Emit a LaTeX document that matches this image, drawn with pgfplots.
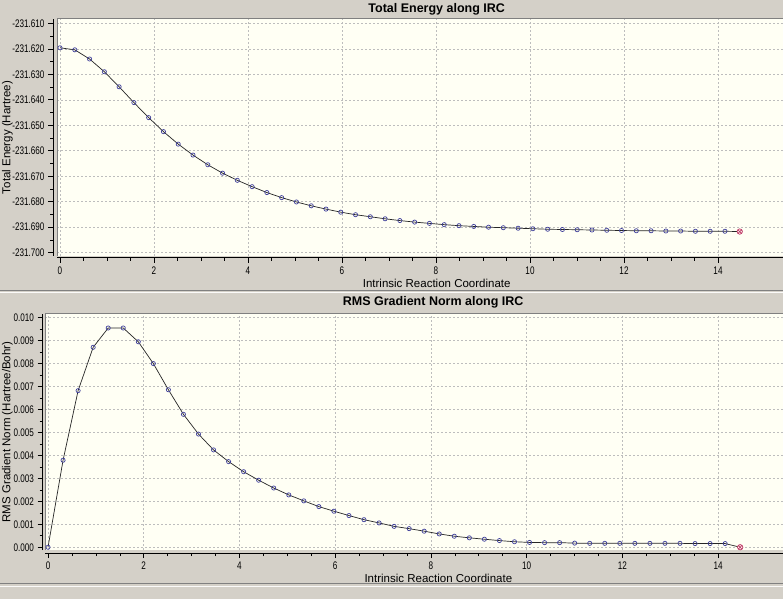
\documentclass[border=0pt]{standalone}
\usepackage{fontspec}
\setmainfont{Liberation Sans}
\newfontfamily\tickfont{Liberation Sans}[FakeStretch=0.74]
\usepackage{pgfplots}
\pgfplotsset{compat=1.18}
\definecolor{winbg}{HTML}{D4D0C8}
\definecolor{plotbg}{HTML}{FFFFF4}
\definecolor{gridc}{HTML}{BDBDBD}
\definecolor{markc}{HTML}{40409A}
\definecolor{markf}{HTML}{DCDCF4}
\definecolor{lastc}{HTML}{C03A68}
\definecolor{sepdark}{HTML}{808080}

\pgfplotsset{
  ircline/.style={
    draw=black!85, line width=0.7pt,
    mark=o, mark size=2.1pt,
    mark options={draw=markc, fill=markf, line width=0.7pt, solid}
  },
  irclast/.style={
    draw=none, mark=otimes*, mark size=2.7pt,
    mark options={draw=lastc, fill=plotbg, line width=0.7pt}
  },
  ircaxis/.style={
    scale only axis,
    axis x line*=bottom,
    axis y line*=left,
    axis background/.style={fill=plotbg},
    grid=major,
    major grid style={gridc, dash pattern=on 2pt off 2pt, line width=0.5pt},
    tick align=outside,
    major tick length=5pt,
    minor tick length=3pt,
    tick style={black, line width=0.6pt},
    axis line style={black, line width=1pt},
    xtick={0,2,4,6,8,10,12,14},
    minor x tick num=3,
    minor y tick num=1,
    /pgf/number format/assume math mode=true,
    tick label style={font=\tickfont\fontsize{11}{12}\selectfont},
    xticklabel style={/pgf/number format/.cd, fixed, precision=0},
    yticklabel style={/pgf/number format/.cd, fixed, fixed zerofill, precision=3, 1000 sep={}},
    every axis title shift=0pt,
    title style={font=\bfseries\fontsize{12.5}{14}\selectfont, anchor=center, yshift=0pt},
    xlabel style={font=\fontsize{11.5}{13}\selectfont, anchor=center},
    ylabel style={font=\fontsize{11.5}{13}\selectfont, anchor=center},
  }
}

\begin{document}
\begin{tikzpicture}[x=1pt,y=1pt]
\fill[winbg] (0,0) rectangle (783,599);
\useasboundingbox (0,0) rectangle (783,599);
% separators
\draw[sepdark, line width=1pt] (0,308.5) -- (783,308.5);
\draw[white!90!winbg, line width=1.2pt] (0,306.5) -- (783,306.5);
\draw[sepdark, line width=1pt] (0,15.5) -- (783,15.5);
\draw[white!90!winbg, line width=1.5pt] (0,12.5) -- (783,12.5);

% ---------------- Top: Total energy ----------------
\begin{axis}[
  ircaxis,
  at={(57pt,343pt)}, anchor=south west,
  width=726pt, height=237pt,
  xmin=-0.064, xmax=15.383,
  ymin=-231.7013, ymax=-231.6083,
  ytick={-231.700,-231.690,-231.680,-231.670,-231.660,-231.650,-231.640,-231.630,-231.620,-231.610},
  axis x line shift=2pt,
  axis y line shift=4pt,
  title={Total Energy along IRC},
  title style={at={([yshift=10pt]axis description cs:0.523,1)}},
  xlabel={Intrinsic Reaction Coordinate},
  xlabel style={at={([yshift=-27pt]axis description cs:0.523,0)}},
  ylabel={Total Energy (Hartree)},
  ylabel style={at={([xshift=-49.5pt]axis description cs:0,0.5)}},
]
\addplot[ircline] coordinates {
(0.0000,-231.6196) (0.3144,-231.6204) (0.6288,-231.6240) (0.9432,-231.6290)
(1.2576,-231.6349) (1.5720,-231.6411) (1.8864,-231.6470) (2.2008,-231.6525)
(2.5152,-231.6574) (2.8296,-231.6617) (3.1440,-231.6655) (3.4584,-231.6688)
(3.7728,-231.6716) (4.0872,-231.6741) (4.4016,-231.6764) (4.7160,-231.6784)
(5.0304,-231.6801) (5.3448,-231.6816) (5.6592,-231.6829) (5.9736,-231.6841)
(6.2880,-231.6851) (6.6024,-231.6859) (6.9168,-231.6867) (7.2312,-231.6874)
(7.5456,-231.6880) (7.8600,-231.6885) (8.1744,-231.6890) (8.4888,-231.6894)
(8.8032,-231.6897) (9.1176,-231.6900) (9.4320,-231.6902) (9.7464,-231.6904)
(10.0608,-231.6906) (10.3752,-231.6908) (10.6896,-231.6909) (11.0040,-231.6910)
(11.3184,-231.6911) (11.6328,-231.6912) (11.9472,-231.6913) (12.2616,-231.6914)
(12.5760,-231.6914) (12.8904,-231.6915) (13.2048,-231.6915) (13.5192,-231.6916)
(13.8336,-231.6916) (14.1480,-231.6916) (14.4624,-231.6917)
};
\addplot[irclast] coordinates {(14.4624,-231.6917)};
\draw[sepdark, line width=1pt] (rel axis cs:0,0) -- (rel axis cs:0,1) -- (rel axis cs:1,1);
\end{axis}

% ---------------- Bottom: RMS gradient ----------------
\begin{axis}[
  ircaxis,
  at={(45pt,49pt)}, anchor=south west,
  width=738pt, height=236pt,
  xmin=-0.063, xmax=15.357,
  ymin=-0.00012, ymax=0.01016,
  ytick={0,0.001,0.002,0.003,0.004,0.005,0.006,0.007,0.008,0.009,0.010},
  scaled y ticks=false,
  axis x line shift=3pt,
  axis y line shift=2.5pt,
  title={RMS Gradient Norm along IRC},
  title style={at={([yshift=12pt]axis description cs:0.526,1)}},
  xlabel={Intrinsic Reaction Coordinate},
  xlabel style={at={([yshift=-28pt]axis description cs:0.533,0)}},
  ylabel={RMS Gradient Norm (Hartree/Bohr)},
  ylabel style={at={([xshift=-37.5pt]axis description cs:0,0.5)}},
]
\addplot[ircline] coordinates {
(0.0000,0.00000) (0.3144,0.00379) (0.6288,0.00682) (0.9432,0.00871)
(1.2576,0.00955) (1.5720,0.00955) (1.8864,0.00895) (2.2008,0.00800)
(2.5152,0.00686) (2.8296,0.00579) (3.1440,0.00493) (3.4584,0.00424)
(3.7728,0.00373) (4.0872,0.00329) (4.4016,0.00292) (4.7160,0.00258)
(5.0304,0.00228) (5.3448,0.00202) (5.6592,0.00177) (5.9736,0.00157)
(6.2880,0.00138) (6.6024,0.00120) (6.9168,0.00106) (7.2312,0.00091)
(7.5456,0.00081) (7.8600,0.00070) (8.1744,0.00058) (8.4888,0.00048)
(8.8032,0.00041) (9.1176,0.00035) (9.4320,0.00029) (9.7464,0.00024)
(10.0608,0.00021) (10.3752,0.00020) (10.6896,0.00020) (11.0040,0.00018)
(11.3184,0.00017) (11.6328,0.00017) (11.9472,0.00017) (12.2616,0.00017)
(12.5760,0.00017) (12.8904,0.00017) (13.2048,0.00017) (13.5192,0.00016)
(13.8336,0.00016) (14.1480,0.00016) (14.4624,0.00000)
};
\addplot[irclast] coordinates {(14.4624,0.00000)};
\draw[sepdark, line width=1pt] (rel axis cs:0,0) -- (rel axis cs:0,1) -- (rel axis cs:1,1);
\end{axis}
\end{tikzpicture}
\end{document}
